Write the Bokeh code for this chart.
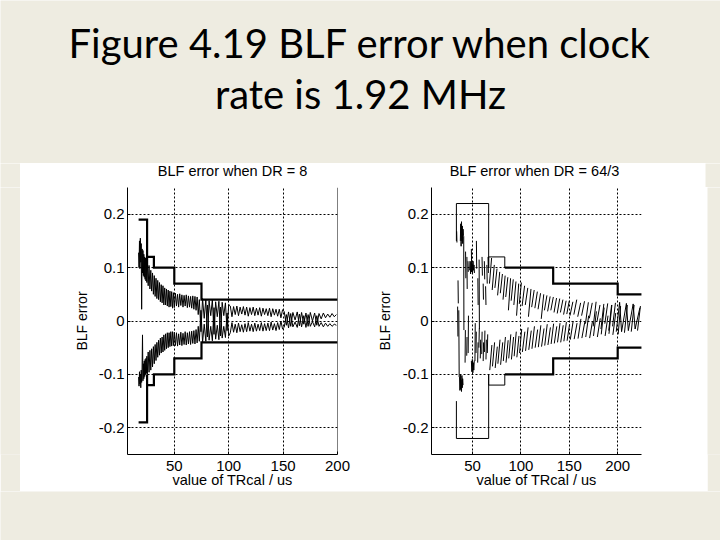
from bokeh.plotting import figure
from bokeh.models import Range1d, FixedTicker, Span
from bokeh.layouts import column, row
from bokeh.embed import file_html
from bokeh.resources import INLINE
from bokeh.core.properties import value

BG = "#EEECE1"
FONT = "Liberation Sans"
NAN = float("nan")

PAGE_TITLE = ["Figure 4.19 BLF error when clock", "rate is 1.92 MHz"]
PANEL_TITLES = ["BLF error when DR = 8", "BLF error when DR = 64/3"]
X_LABEL = "value of TRcal / us"
Y_LABEL = "BLF error"
X_TICKS = [50, 100, 150, 200]
Y_TICKS = [-0.2, -0.1, 0.0, 0.1, 0.2]
Y_TICK_LABELS = ["-0.2", "-0.1", "0", "0.1", "0.2"]

# ---------------- DR = 8 : tolerance limits (TRcal, limit) ----------------
L_BOUND_X = [17.2, 25, 25, 25, 31.25, 31.25, 50, 50, 75, 75, 200]
L_BOUND_UP = [0.19, 0.19, 0.10, 0.12, 0.12, 0.10, 0.10, 0.07, 0.07, 0.04, 0.04]
L_BOUND_LO = [-0.19, -0.19, -0.10, -0.12, -0.12, -0.10, -0.10, -0.07, -0.07, -0.04, -0.04]

# ---------------- DR = 8 : measured BLF error ----------------
L_TR = [17.2, 17.6, 18.0, 18.4, 18.8, 19.2, 19.6, 20.0, 20.4, 20.8,
        21.2, 21.6, 22.0, 22.4, 22.8, 23.2, 23.6, 24.0, 24.4, 24.8,
        25.2, 26.0, 26.8, 27.6, 28.4, 29.2, 30.0, 30.8, 31.6, 32.4,
        33.2, 34.0, 34.8, 35.6, 36.4, 37.2, 38.0, 38.8, 39.6, 40.4,
        41.2, 42.0, 42.8, 43.6, 44.4, 45.2, 46.0, 46.8, 47.6, 48.4,
        49.2, 50.0,
        51, 52, 53, 54, 55, 56, 57, 58, 59, 60, 61, 62, 63, 64, 65, 66,
        67, 68, 69, 70, 71, 72,
        73, 74.5, 76, 77.5, 79, 80.5, 82, 83.5, 85, 86.5, 88, 89.5,
        91, 92.5, 94, 95.5, 97, 98.5, 100,
        101.5, 103.0, 104.5, 106.0, 107.5, 109.0, 110.5, 112.0, 113.5, 115.0,
        116.5, 118.0, 119.5, 121.0, 122.5, 124.0, 125.5, 127.0, 128.5, 130.0,
        131.5, 133.0, 134.5, 136.0, 137.5, 139.0, 140.5, 142.0, 143.5, 145.0,
        146.5, 148.0, 149.5,
        151, 153, 155, 157, 159, 161, 163, 165, 167, 169, 171, 173, 175,
        177, 179, 181, 183, 185, 187, 189, 191, 193, 195, 197, 199]

L_UP = [0.128, 0.100, 0.150, 0.098, 0.155, 0.110, 0.145, 0.022, 0.135, 0.090,
        0.132, 0.085, 0.125, 0.082, 0.120, 0.078, 0.118, 0.075, 0.112, 0.072,
        0.110, 0.066, 0.104, 0.060, 0.095, 0.056, 0.090, 0.050, 0.085, 0.046,
        0.080, 0.042, 0.076, 0.040, 0.072, 0.036, 0.068, 0.034, 0.066, 0.030,
        0.062, 0.030, 0.060, 0.028, 0.058, 0.026, 0.056, 0.027, 0.055, 0.024,
        0.053, 0.025,
        0.052, 0.028, 0.050, 0.026, 0.051, 0.029, 0.049, 0.026, 0.048, 0.028,
        0.049, 0.025, 0.047, 0.026, 0.046, 0.024, 0.047, 0.022, 0.046, 0.020,
        0.045, 0.012,
        0.040, -0.020, 0.042, 0.005, 0.040, -0.030, 0.038, 0.010, 0.040, -0.025,
        0.036, 0.008, 0.037, -0.028, 0.035, 0.010, 0.034, -0.018, 0.031,
        0.028, 0.008, 0.027, 0.012, 0.028, 0.010, 0.026, 0.013, 0.027, 0.011,
        0.026, 0.009, 0.025, 0.012, 0.026, 0.010, 0.024, 0.011, 0.025, 0.009,
        0.024, 0.012, 0.023, 0.010, 0.024, 0.008, 0.023, 0.011, 0.022, 0.009,
        0.022, 0.006, 0.021,
        0.018, -0.008, 0.017, -0.010, 0.016, 0.002, 0.017, -0.009, 0.016, -0.006,
        0.015, -0.010, 0.016, 0.000, 0.015, -0.008, 0.014, 0.004, 0.015, 0.006,
        0.013, 0.007, 0.014, 0.008, 0.012]

L_LO = [-0.105, -0.122, -0.095, -0.118, -0.100, -0.125, -0.092, -0.115, -0.088, -0.026,
        -0.112, -0.080, -0.108, -0.075, -0.104, -0.072, -0.100, -0.070, -0.098, -0.066,
        -0.100, -0.058, -0.096, -0.055, -0.092, -0.052, -0.086, -0.048, -0.080, -0.044,
        -0.074, -0.040, -0.068, -0.036, -0.064, -0.032, -0.060, -0.030, -0.058, -0.026,
        -0.055, -0.024, -0.052, -0.022, -0.050, -0.022, -0.048, -0.020, -0.047, -0.020,
        -0.046, -0.021,
        -0.046, -0.022, -0.047, -0.024, -0.045, -0.021, -0.046, -0.023, -0.044, -0.020,
        -0.045, -0.022, -0.043, -0.020, -0.044, -0.019, -0.042, -0.018, -0.043, -0.016,
        -0.041, -0.010,
        -0.038, 0.020, -0.040, -0.006, -0.038, 0.030, -0.036, -0.010, -0.037, 0.025,
        -0.034, -0.008, -0.035, 0.026, -0.032, -0.010, -0.031, 0.015, -0.028,
        -0.022, -0.003, -0.021, -0.006, -0.022, -0.004, -0.020, -0.007, -0.021, -0.005,
        -0.020, -0.003, -0.019, -0.006, -0.020, -0.004, -0.019, -0.006, -0.018, -0.003,
        -0.019, -0.005, -0.018, -0.004, -0.018, -0.002, -0.017, -0.005, -0.018, -0.003,
        -0.016, 0.000, -0.015,
        -0.012, 0.012, -0.013, 0.014, -0.011, -0.002, -0.012, 0.013, -0.011, 0.010,
        -0.012, 0.012, -0.010, -0.001, -0.011, 0.010, -0.010, -0.003, -0.011, -0.004,
        -0.010, -0.005, -0.010, -0.006, -0.008]

# ---------------- DR = 64/3 : tolerance limits ----------------
R_BOUND_X = [33.33, 33.33, 66.67, 66.67, 66.67, 83.33, 83.33, 133.33, 133.33, 200, 200, 225]
R_BOUND_UP = [0.15, 0.22, 0.22, 0.10, 0.12, 0.12, 0.10, 0.10, 0.07, 0.07, 0.05, 0.05]
R_BOUND_LO = [-0.15, -0.22, -0.22, -0.10, -0.12, -0.12, -0.10, -0.10, -0.07, -0.07, -0.05, -0.05]

# ---------------- DR = 64/3 : measured BLF error (broken strokes) ----------------
R_UP = [
    [(33.6, 0.168), (33.9, 0.147)],
    [(35.0, 0.076), (35.3, 0.033)],
    [(34.6, 0.027), (34.9, -0.029)],
    [(37.4, 0.150), (37.8, 0.182), (38.2, 0.140), (38.6, 0.186), (39.0, 0.150), (39.4, 0.178),
     (39.8, 0.145), (40.2, 0.172), (40.6, 0.160), (40.9, 0.158), (41.1, -0.017)],
    [(42.8, 0.130), (43.1, 0.080)],
    [(44.2, 0.120), (44.5, 0.060)],
    [(45.3, 0.112), (45.6, 0.092)],
    [(47.0, 0.095), (47.5, 0.112), (48.0, 0.088), (48.5, 0.110), (49.0, 0.092), (49.5, 0.108),
     (50.0, 0.090), (50.5, 0.112), (51.0, 0.095), (51.5, 0.105), (52.0, 0.090)],
    [(48.8, 0.135), (49.1, 0.095)],
    [(54.0, 0.150), (54.3, 0.098)],
    [(55.5, 0.080), (55.8, 0.030)],
    [(56.8, 0.115), (57.1, -0.015)],
    [(59.8, 0.120), (60.2, 0.085)],
    [(61.0, 0.070), (61.3, 0.040)],
    [(62.2, 0.112), (62.6, 0.078)],
    [(63.5, 0.065), (63.9, 0.030)],
    [(64.8, 0.105), (65.2, 0.070)],
    [(66.0, 0.120), (66.4, 0.090)],
    [(67.5, 0.070), (69.7, 0.118)],
    [(70.3, 0.058), (72.5, 0.105)],
    [(73.1, 0.062), (75.3, 0.098)],
    [(75.9, 0.048), (78.1, 0.092)],
    [(78.7, 0.052), (80.9, 0.088)],
    [(81.5, 0.040), (83.7, 0.085)],
    [(84.3, 0.045), (86.5, 0.082)],
    [(87.1, 0.020), (89.3, 0.080)],
    [(89.9, 0.038), (92.1, 0.078)],
    [(92.7, 0.030), (94.9, 0.074)],
    [(95.5, 0.010), (97.7, 0.070)],
    [(98.3, 0.032), (100.5, 0.072)],
    [(101.2, 0.028), (103.8, 0.066)],
    [(104.5, 0.030), (107.1, 0.062)],
    [(107.8, 0.008), (110.4, 0.060)],
    [(111.1, 0.026), (113.7, 0.058)],
    [(114.4, 0.024), (117.0, 0.055)],
    [(117.7, 0.022), (120.3, 0.052)],
    [(121.0, 0.004), (123.6, 0.050)],
    [(124.3, 0.020), (126.9, 0.048)],
    [(127.6, 0.018), (130.2, 0.046)],
    [(130.9, 0.020), (133.5, 0.045)],
    [(134.2, 0.016), (136.8, 0.043)],
    [(137.5, 0.014), (140.1, 0.042)],
    [(140.8, 0.016), (143.4, 0.040)],
    [(144.1, 0.012), (146.7, 0.038)],
    [(147.4, 0.013), (150.0, 0.038)],
    [(150.7, 0.010), (153.7, 0.036)],
    [(154.7, 0.012), (157.7, 0.040)],
    [(158.7, 0.008), (161.7, 0.034)],
    [(162.7, 0.010), (165.7, 0.037)],
    [(166.7, -0.005), (169.7, 0.035)],
    [(170.7, 0.005), (173.7, 0.034)],
    [(174.7, -0.010), (177.7, 0.036)],
    [(178.7, 0.000), (181.7, 0.030)],
    [(182.7, -0.015), (185.7, 0.032)],
    [(186.7, -0.005), (189.7, 0.033)],
    [(190.7, -0.018), (193.7, 0.030)],
    [(194.7, -0.010), (197.7, 0.034)],
    [(198.5, -0.020), (202.0, 0.035), (204.0, -0.020), (209.0, 0.033), (211.0, -0.018),
     (216.0, 0.032), (218.0, -0.015), (223.0, 0.025)],
]

R_LO = [
    [(35.8, 0.020), (36.2, -0.105)],
    [(36.6, -0.105), (37.0, -0.130), (37.4, -0.100), (37.8, -0.128), (38.2, -0.110),
     (38.6, -0.132), (39.0, -0.102), (39.4, -0.125), (39.8, -0.108), (40.2, -0.120)],
    [(42.3, -0.078), (42.6, -0.017)],
    [(44.0, -0.065), (44.3, -0.030)],
    [(45.5, -0.060), (45.8, 0.010)],
    [(48.8, -0.075), (49.3, -0.095), (49.8, -0.072), (50.3, -0.097), (50.8, -0.078),
     (51.3, -0.092), (51.8, -0.074)],
    [(52.5, -0.075), (52.8, -0.004)],
    [(53.6, -0.060), (53.9, -0.020)],
    [(55.3, -0.078), (55.7, -0.040)],
    [(56.6, -0.050), (57.0, -0.014)],
    [(58.0, -0.070), (58.4, -0.035)],
    [(59.5, -0.062), (59.9, -0.020)],
    [(61.0, -0.075), (61.4, -0.040)],
    [(62.4, -0.058), (62.8, -0.018)],
    [(63.9, -0.072), (64.3, -0.035)],
    [(65.3, -0.060), (65.7, -0.025)],
    [(67.8, -0.092), (70.0, -0.045)],
    [(70.6, -0.085), (72.8, -0.040)],
    [(73.4, -0.088), (75.6, -0.048)],
    [(76.2, -0.080), (78.4, -0.035)],
    [(79.0, -0.082), (81.2, -0.040)],
    [(81.8, -0.075), (84.0, -0.030)],
    [(84.6, -0.078), (86.8, -0.036)],
    [(87.4, -0.070), (89.6, -0.025)],
    [(90.2, -0.072), (92.4, -0.030)],
    [(93.0, -0.066), (95.2, -0.020)],
    [(95.8, -0.068), (98.0, -0.028)],
    [(98.6, -0.060), (100.8, -0.015)],
    [(101.5, -0.058), (104.1, -0.020)],
    [(104.8, -0.056), (107.4, -0.012)],
    [(108.1, -0.054), (110.7, -0.018)],
    [(111.4, -0.052), (114.0, -0.010)],
    [(114.7, -0.050), (117.3, -0.016)],
    [(118.0, -0.049), (120.6, -0.008)],
    [(121.3, -0.048), (123.9, -0.014)],
    [(124.6, -0.046), (127.2, -0.006)],
    [(127.9, -0.045), (130.5, -0.012)],
    [(131.2, -0.043), (133.8, -0.005)],
    [(134.5, -0.042), (137.1, -0.010)],
    [(137.8, -0.040), (140.4, -0.004)],
    [(141.1, -0.040), (143.7, -0.008)],
    [(144.4, -0.038), (147.0, -0.002)],
    [(147.7, -0.037), (150.3, -0.006)],
    [(151.0, -0.035), (154.0, 0.000)],
    [(155.0, -0.034), (158.0, -0.004)],
    [(159.0, -0.033), (162.0, 0.004)],
    [(163.0, -0.032), (166.0, -0.002)],
    [(167.0, -0.030), (170.0, 0.010)],
    [(171.0, -0.032), (174.0, 0.000)],
    [(175.0, -0.028), (178.0, 0.018)],
    [(179.0, -0.030), (182.0, 0.005)],
    [(183.0, -0.025), (186.0, 0.025)],
    [(187.0, -0.028), (190.0, 0.010)],
    [(191.0, -0.024), (194.0, 0.030)],
    [(195.0, -0.026), (198.0, 0.015)],
    [(200.5, -0.025), (203.0, 0.028)],
    [(207.0, -0.022), (210.0, 0.030)],
    [(214.0, -0.020), (217.0, 0.030)],
    [(220.5, -0.018), (223.5, 0.028)],
]


def flatten(segments):
    xs, ys = [], []
    for i, seg in enumerate(segments):
        if i:
            xs.append(NAN)
            ys.append(NAN)
        for x, y in seg:
            xs.append(x)
            ys.append(y)
    return xs, ys


# ---------------- layout constants (pixels) ----------------
PAGE_W = 720
LEFT_GAP, RIGHT_GAP = 20, 15
FRAME_W, FRAME_H = 210, 267
Y0, Y1 = -0.25, 0.25
STRIP_H = 24          # white strip holding the two panel titles
PANEL_H = 304         # axes figures under the strip
BOT_B = 37
TITLE_BASE = 7.8      # panel-title baseline inside the strip
L_BL, L_BR = 107, 36
R_BL, R_BR = 56, 66


def blank(w, h, fill=BG):
    p = figure(width=w, height=h, x_range=Range1d(0, w), y_range=Range1d(h, 0),
               min_border=0, x_axis_location=None, y_axis_location=None,
               toolbar_location=None, output_backend="svg",
               background_fill_color=fill, border_fill_color=fill, outline_line_color=None)
    p.grid.visible = False
    return p


def panel(x0, x1, bl, br, ylab_standoff):
    p = figure(frame_width=FRAME_W, frame_height=FRAME_H,
               x_range=Range1d(x0, x1), y_range=Range1d(Y0, Y1),
               min_border_left=bl, min_border_right=br,
               min_border_top=0, min_border_bottom=BOT_B,
               toolbar_location=None, output_backend="svg",
               background_fill_color="white", border_fill_color="white",
               outline_line_color=None)
    xt = FixedTicker(ticks=X_TICKS)
    yt = FixedTicker(ticks=Y_TICKS)
    p.xaxis.ticker = xt
    p.yaxis.ticker = yt
    p.xgrid.ticker = xt
    p.ygrid.ticker = yt
    p.yaxis.major_label_overrides = dict(zip(Y_TICKS, Y_TICK_LABELS))
    for ax in (p.xaxis[0], p.yaxis[0]):
        ax.axis_line_color = "black"
        ax.axis_line_width = 1
        ax.major_tick_line_color = "black"
        ax.major_tick_in = 3
        ax.major_tick_out = 0
        ax.minor_tick_line_color = None
        ax.major_label_text_font = FONT
        ax.major_label_text_font_size = "15px"
        ax.major_label_text_color = "black"
        ax.axis_label_text_font = FONT
        ax.axis_label_text_font_style = "normal"
        ax.axis_label_text_color = "black"
    p.xaxis.major_label_standoff = 6
    p.yaxis.major_label_standoff = 3
    p.xaxis.axis_label = X_LABEL
    p.xaxis.axis_label_text_font_size = "14.5px"
    p.xaxis.axis_label_standoff = -2
    p.yaxis.axis_label = Y_LABEL
    p.yaxis.axis_label_text_font_size = "14px"
    p.yaxis.axis_label_standoff = ylab_standoff

    p.grid.grid_line_color = "black"
    p.grid.grid_line_alpha = 1.0
    p.grid.grid_line_width = 1
    p.grid.grid_line_dash = "2 2"
    return p


# ---------------- page title ----------------
title_fig = blank(PAGE_W, 163)
title_fig.text(x=[360, 360], y=[42, 93], text=PAGE_TITLE, text_align="center",
               text_baseline="alphabetic", text_font=value("Lato"),
               text_font_size="40px", text_color="black")

# ---------------- left panel: DR = 8 ----------------
left = panel(7.0, 200.0, L_BL, L_BR, 6)
left.line(L_TR, L_UP, line_color="black", line_width=1)
left.line(L_TR, L_LO, line_color="black", line_width=1)
left.line(L_BOUND_X, L_BOUND_UP, line_color="black", line_width=2.2, line_join="miter")
left.line(L_BOUND_X, L_BOUND_LO, line_color="black", line_width=2.2, line_join="miter")
left.add_layout(Span(location=200, dimension="height", line_color="black", line_width=1))

# ---------------- right panel: DR = 64/3 ----------------
right = panel(7.6, 224.6, R_BL, R_BR, 7)
ux, uy = flatten(R_UP)
lx, ly = flatten(R_LO)
right.line(ux, uy, line_color="black", line_width=1)
right.line(lx, ly, line_color="black", line_width=1)
right.line(R_BOUND_X[:7], R_BOUND_UP[:7], line_color="black", line_width=1, line_join="miter")
right.line(R_BOUND_X[:7], R_BOUND_LO[:7], line_color="black", line_width=1, line_join="miter")
right.line(R_BOUND_X[6:], R_BOUND_UP[6:], line_color="black", line_width=2.2, line_join="miter")
right.line(R_BOUND_X[6:], R_BOUND_LO[6:], line_color="black", line_width=2.2, line_join="miter")

# ---------------- one white strip carrying both panel titles ----------------
left_w = L_BL + FRAME_W + L_BR
strip_w = PAGE_W - LEFT_GAP - RIGHT_GAP
strip = blank(strip_w, STRIP_H, "white")
strip.text(x=[L_BL + FRAME_W / 2, left_w + R_BL + FRAME_W / 2], y=[TITLE_BASE, TITLE_BASE],
           text=PANEL_TITLES, text_align="center", text_baseline="alphabetic",
           text_font=value(FONT), text_font_size="14.5px", text_color="black")

root = column(
    title_fig,
    row(blank(LEFT_GAP, STRIP_H), strip, blank(RIGHT_GAP, STRIP_H)),
    row(blank(LEFT_GAP, PANEL_H), left, right, blank(RIGHT_GAP, PANEL_H)),
    blank(PAGE_W, 49),
)
root.styles = {"position": "absolute", "left": "0px", "top": "0px"}

open("out.html", "w").write(file_html(root, INLINE))
